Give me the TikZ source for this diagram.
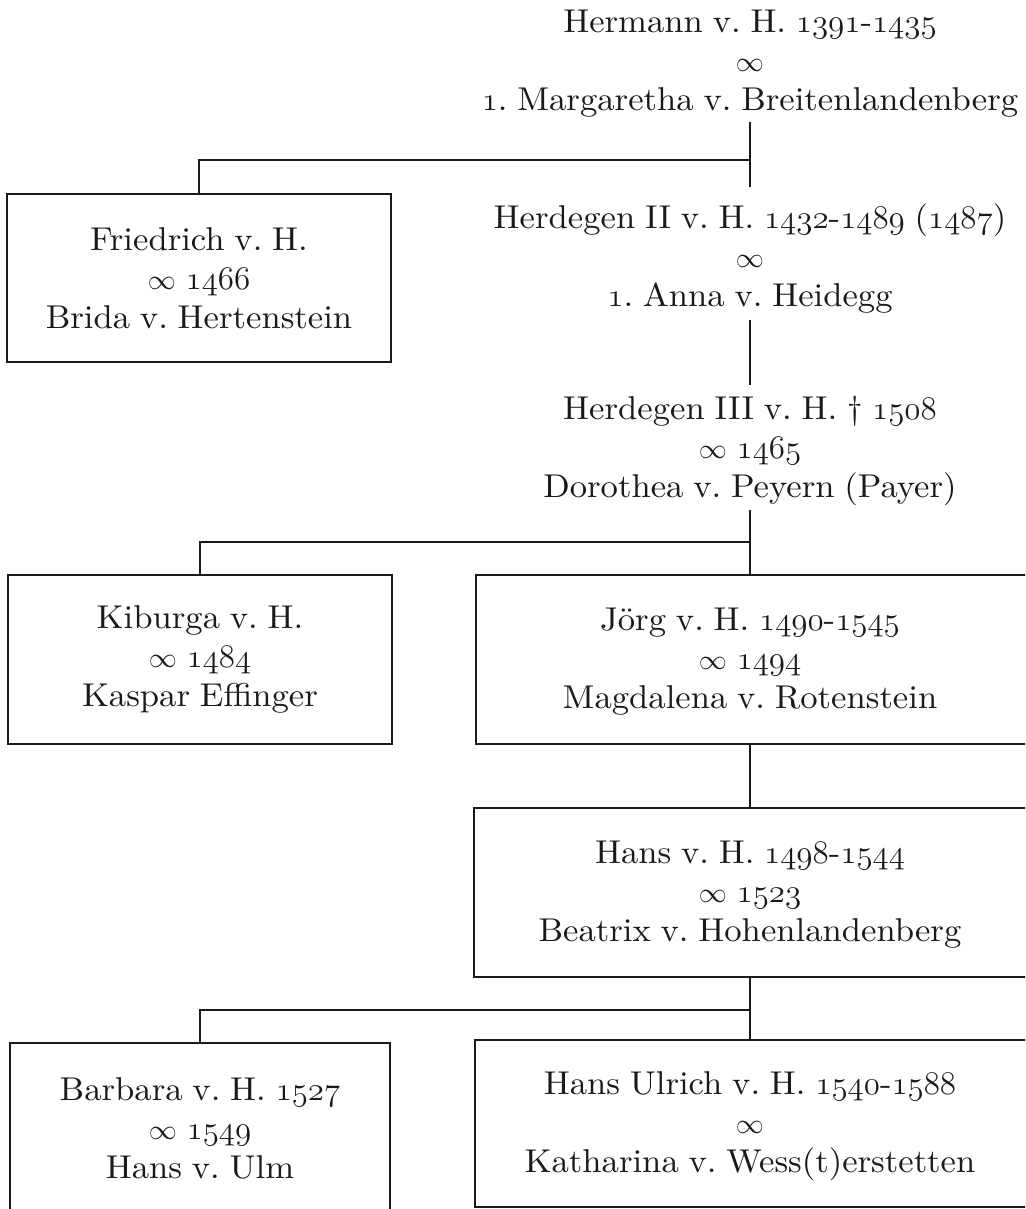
\RequirePackage{fix-cm}
\documentclass[tikz,border=0pt]{standalone}
\usepackage{fontspec}
\setmainfont{lmroman10-regular.otf}[FakeStretch=1.05, WordSpace=0.85]
\definecolor{ink}{HTML}{1A1A1A}
\newcommand\osf[1]{{\fontencoding{OML}\fontfamily{cmm}\fontseries{m}\fontshape{it}\selectfont #1}}
\newcommand\myinf{\scalebox{0.85}{$\infty$}}
\tikzset{
  txt/.style={align=center, inner sep=0pt, font=\fontsize{33}{39}\selectfont, text=ink},
  boxline/.style={draw=ink, line width=1.8pt, rectangle, inner sep=0pt, align=center,
                  font=\fontsize{33}{39}\selectfont, text=ink},
  conn/.style={draw=ink, line width=1.4pt}
}
\begin{document}
\begin{tikzpicture}[x=1pt,y=-1pt]
\clip (0,0) rectangle (1025,1209);
\fill[white] (0,0) rectangle (1025,1209);

% main line text groups
\node[txt] (hermann) at (750,64) {Hermann v.\ H. \osf{1391}-\osf{1435}\\ \myinf\\ \osf{1}.\ Margaretha v.\ Breitenlandenberg};
\node[txt] (herd2) at (750,259) {Herdegen II v.\ H. \osf{1432}-\osf{1489} (\osf{1487})\\ \myinf\\ \osf{1}.\ Anna v.\ Heidegg};
\node[txt] (herd3) at (750,451) {Herdegen III v.\ H. \textdagger\ \osf{1508}\\ \myinf\ \osf{1465}\\ Dorothea v.\ Peyern (Payer)};

% left boxes
\node[boxline, minimum width=384, minimum height=168] (fried) at (199,278) {Friedrich v.\ H.\\ \myinf\ \osf{1466}\\ Brida v.\ Hertenstein};
\node[boxline, minimum width=384, minimum height=169] (kib) at (200,659.5) {Kiburga v.\ H.\\ \myinf\ \osf{1484}\\ Kaspar Effinger};
\node[boxline, minimum width=380, minimum height=171] (barb) at (200,1128.5) {Barbara v.\ H. \osf{1527}\\ \myinf\ \osf{1549}\\ Hans v.\ Ulm};

% right boxes (open to the right edge)
\node[boxline, minimum width=564, minimum height=169] (jorgbox) at (758,659.5) {};
\node[boxline, minimum width=566, minimum height=169] (hansbox) at (757,892.5) {};
\node[boxline, minimum width=565, minimum height=167] (ulrichbox) at (757.5,1123.5) {};
\node[txt] (jorg) at (750,662) {Jörg v.\ H. \osf{1490}-\osf{1545}\\ \myinf\ \osf{1494}\\ Magdalena v.\ Rotenstein};
\node[txt] (hans) at (750,894.5) {Hans v.\ H. \osf{1498}-\osf{1544}\\ \myinf\ \osf{1523}\\ Beatrix v.\ Hohenlandenberg};
\node[txt] (ulrich) at (750,1126) {Hans Ulrich v.\ H. \osf{1540}-\osf{1588}\\ \myinf\\ Katharina v.\ Wess(t)erstetten};

% connector end points
\coordinate (a1) at (750,122);
\coordinate (a2) at (750,187);
\coordinate (b1) at (750,320);
\coordinate (b2) at (750,385);
\coordinate (c1) at (750,510);
\coordinate (j1) at (750,160);
\coordinate (j2) at (750,542);
\coordinate (j3) at (750,1010);

% connectors
\draw[conn] (a1) -- (a2);
\draw[conn] (j1) -| (fried.north);
\draw[conn] (b1) -- (b2);
\draw[conn] (c1) -- (jorgbox.north -| c1);
\draw[conn] (j2) -| (kib.north);
\draw[conn] (jorgbox.south -| jorg) -- (hansbox.north -| jorg);
\draw[conn] (hansbox.south -| hans) -- (ulrichbox.north -| hans);
\draw[conn] (j3) -| (barb.north);
\end{tikzpicture}
\end{document}
